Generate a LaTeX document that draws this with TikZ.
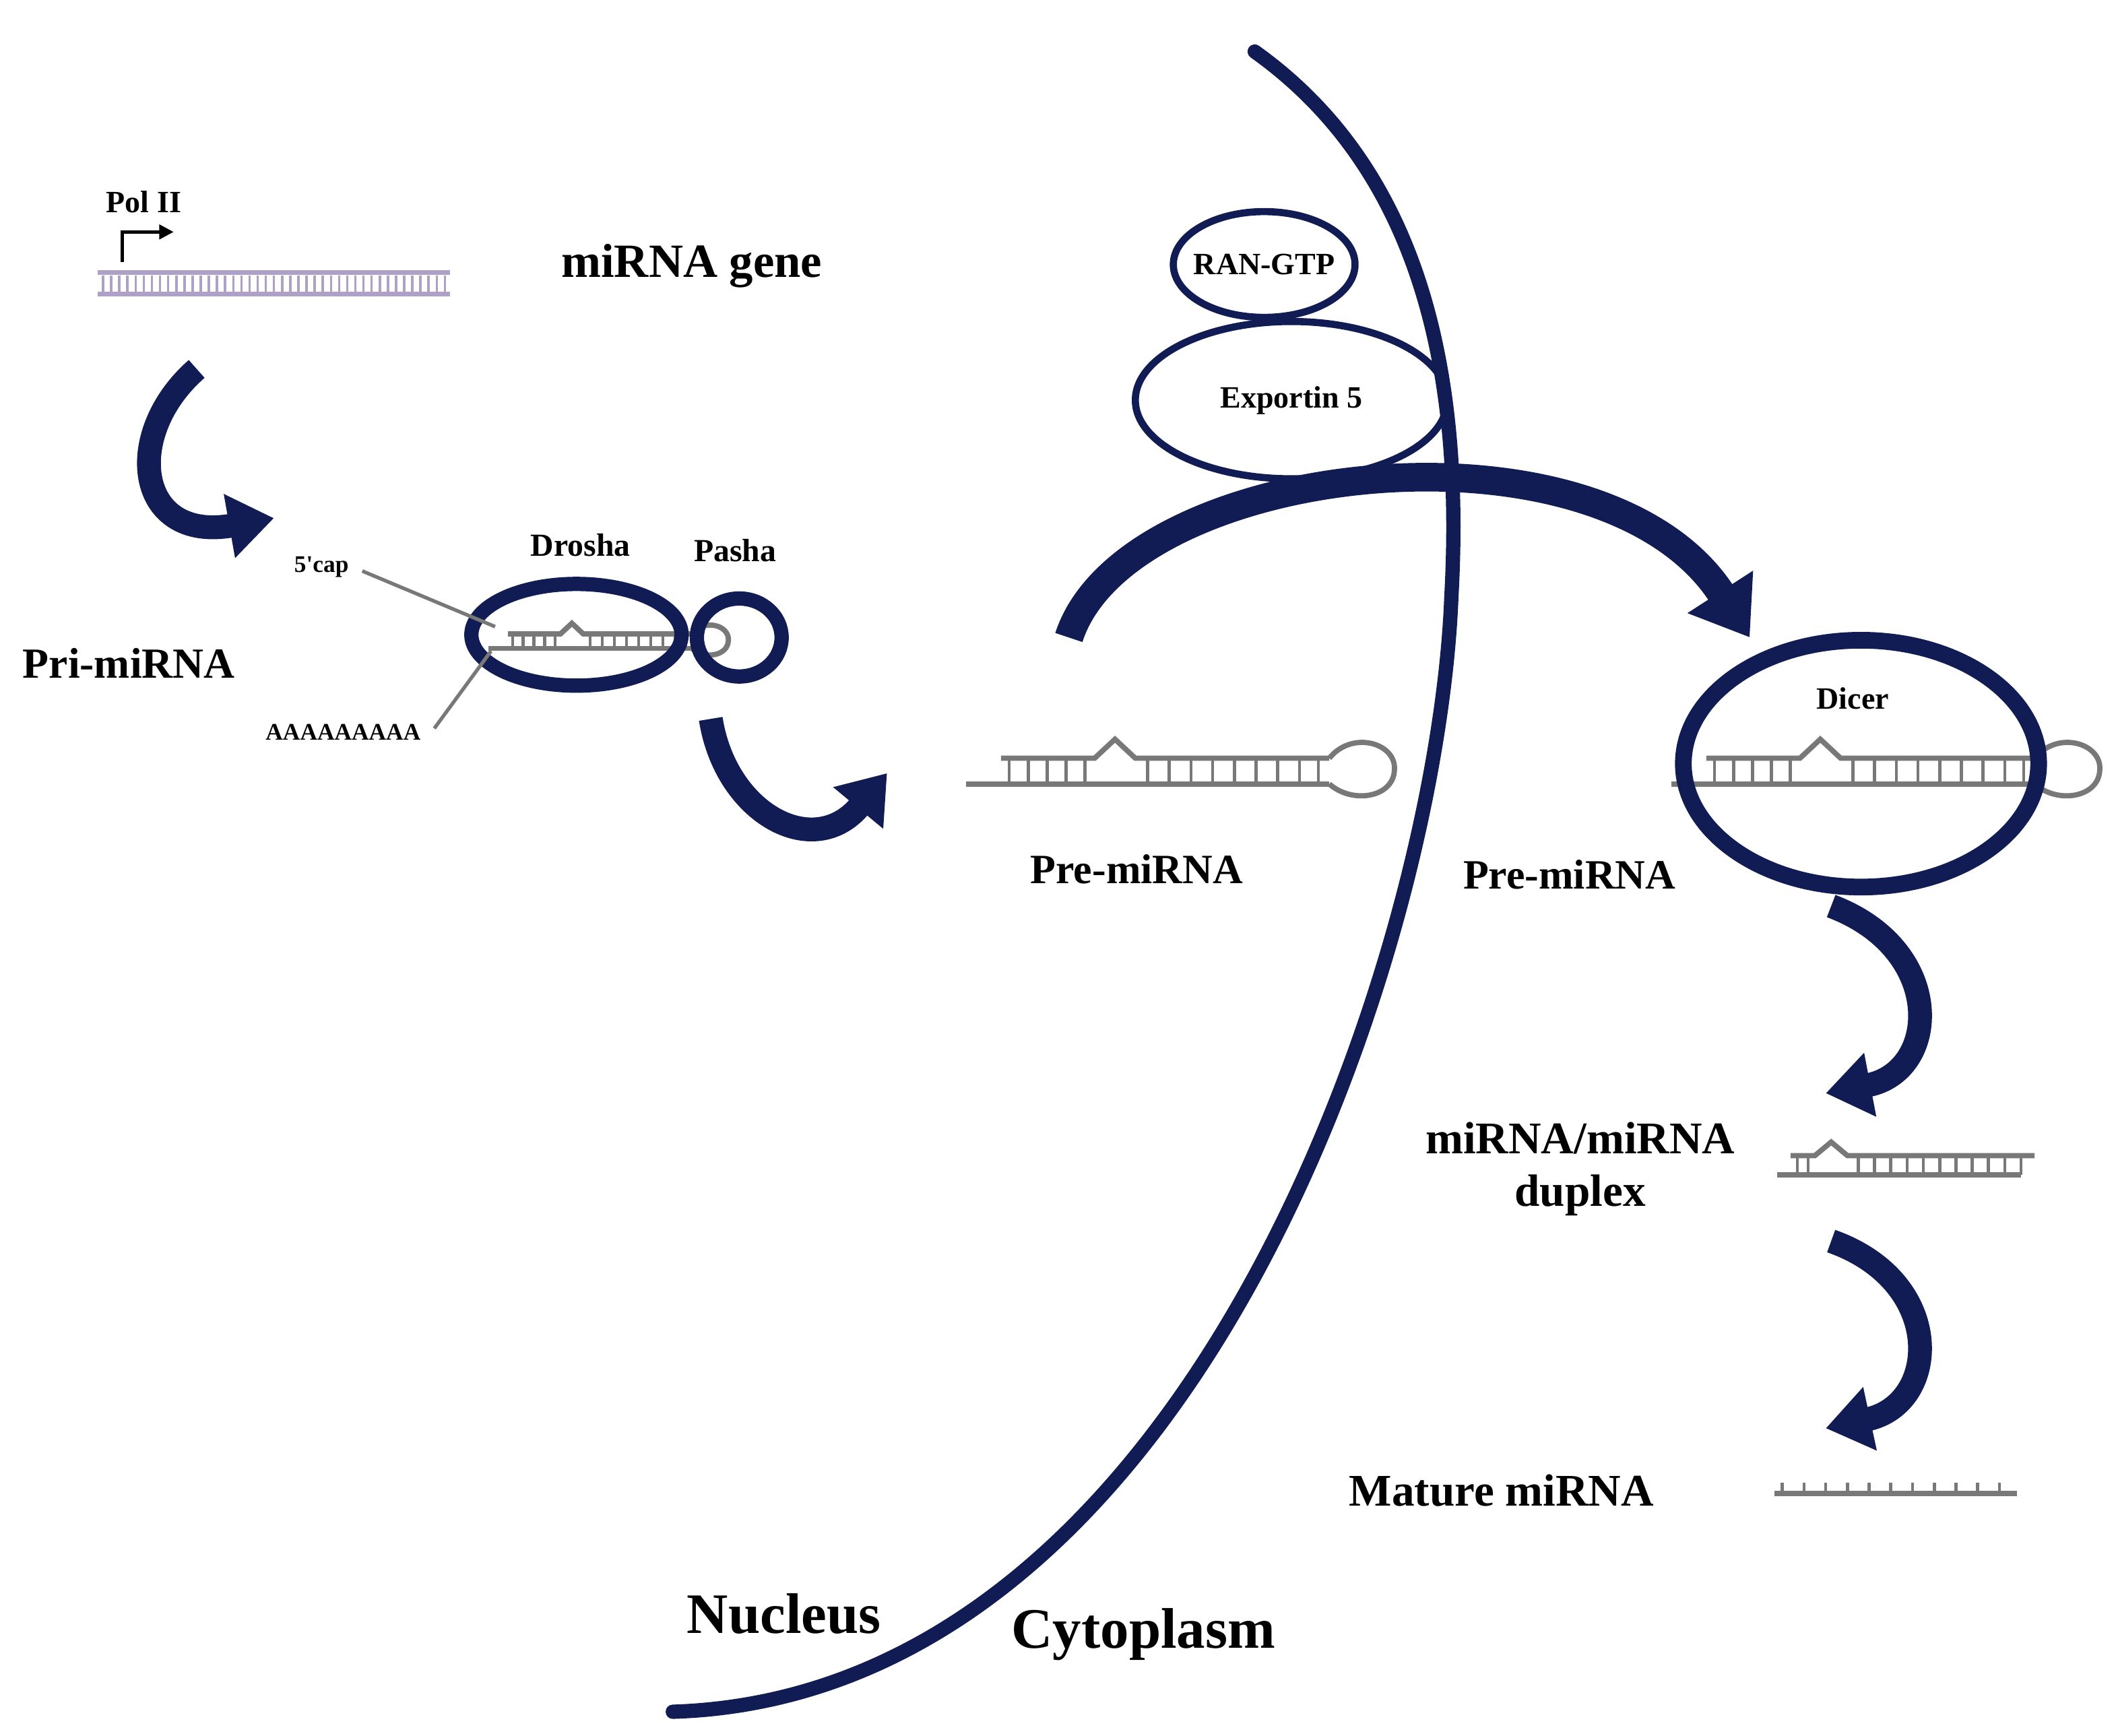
\documentclass[tikz,border=0pt]{standalone}
\usepackage{fontspec}
\setmainfont{Liberation Serif}
\usetikzlibrary{arrows.meta,shapes.geometric}
\definecolor{navy}{RGB}{18,28,84}
\definecolor{rnag}{RGB}{120,120,120}
\definecolor{dnap}{RGB}{175,160,200}
\tikzset{
  lbl/.style={font=\bfseries, inner sep=1pt},
  bend/.style={draw=navy, line width=#1, -{Triangle[width=2.6*#1,length=1.9*#1]}},
  rna/.style={draw=rnag, line width=2.2pt},
  rung/.style={draw=rnag, line width=1.3pt},
  pics/hairpin/.style={code={
    \draw[rna] (0,0) -- (268,0);
    \draw[rna] (26,-19) -- (95,-19) -- (110,-33) -- (125,-19) -- (268,-19);
    \draw[rna] (268,-19) .. controls (285,-40) and (318,-30) .. (316,-10) .. controls (315,10) and (285,15) .. (268,0);
    \foreach \x in {32,46,60,74,88} \draw[rung] (\x,-19) -- (\x,0);
    \foreach \x in {134,150,166,182,198,214,230,246,260} \draw[rung] (\x,-19) -- (\x,0);
  }}
}
\begin{document}
\begin{tikzpicture}[x=0.02cm,y=-0.02cm]
\useasboundingbox (0,0) rectangle (1560,1279.5);
% DNA
\draw[dnap, line width=2pt] (72,201) -- (332,201) (72,217) -- (332,217);
\foreach \x in {76,82,...,328} \draw[dnap, line width=1pt] (\x,203) -- (\x,215);
\coordinate (p0) at (90,193); \coordinate (p1) at (128,171);
\draw[line width=1.3pt, -{Triangle[width=6pt,length=6pt]}] (p0) |- (p1);
\node[lbl, font=\bfseries\fontsize{13}{15}\selectfont] (pol) at (106,149) {Pol II};
\node[lbl, font=\bfseries\fontsize{20}{22}\selectfont] (gene) at (510,196) {miRNA gene};
% arrow 1
\coordinate (a1s) at (145,272); \coordinate (a1e) at (202,382);
\draw[bend=10pt] (a1s) .. controls (90,320) and (100,400) .. (a1e);
\node[lbl, font=\bfseries\fontsize{18}{20}\selectfont] (pri) at (95,489) {Pri-miRNA};
% Pri hairpin
\pic[scale=0.56] at (360,478) {hairpin};
\node[draw=navy, line width=6pt, ellipse, minimum width=3.1cm, minimum height=1.5cm, inner sep=0] (drosha) at (425,468) {};
\node[draw=navy, line width=6pt, ellipse, minimum width=1.25cm, minimum height=1.15cm, inner sep=0] (pasha) at (545,470) {};
\node[lbl, font=\bfseries\fontsize{13.5}{15}\selectfont] (dl) at (428,402) {Drosha};
\node[lbl, font=\bfseries\fontsize{13.5}{15}\selectfont] (pl) at (542,406) {Pasha};
\node[lbl, font=\bfseries\fontsize{10}{12}\selectfont] (cap) at (237,418) {5\textquotesingle cap};
\node[lbl, font=\bfseries\fontsize{10}{12}\selectfont] (aaa) at (253,540) {AAAAAAAAA};
\coordinate (capend) at (365,462); \coordinate (aend) at (362,480);
\draw[rnag, line width=1.5pt] (cap.east) ++(8,3) -- (capend);
\draw[rnag, line width=1.5pt] (aaa.east) ++(8,-3) -- (aend);
% arrow 2
\coordinate (a2s) at (524,530); \coordinate (a2e) at (654,570);
\draw[bend=10pt] (a2s) .. controls (535,600) and (600,635) .. (a2e);
% pre-miRNA
\pic at (712,578) {hairpin};
\node[lbl, font=\bfseries\fontsize{17.5}{19}\selectfont] (pre1) at (838,641) {Pre-miRNA};
% exportin
\node[draw=navy, line width=3pt, ellipse, minimum width=2.68cm, minimum height=1.56cm, inner sep=0] (ran) at (932,195) {};
\node[lbl, font=\bfseries\fontsize{13}{15}\selectfont] at (ran) {RAN-GTP};
\node[draw=navy, line width=3pt, ellipse, minimum width=4.6cm, minimum height=2.32cm, inner sep=0] (exp) at (952,295) {};
\node[lbl, font=\bfseries\fontsize{13}{15}\selectfont] at (exp) {Exportin 5};
% membrane
\draw[navy, line width=6pt, line cap=round] (925,38) .. controls (1040,120) and (1080,260) .. (1070,440)
  .. controls (1060,700) and (880,1250) .. (496,1262);
% big arrow
\coordinate (a3s) at (788,470); \coordinate (a3e) at (1290,470);
\draw[bend=12pt] (a3s) .. controls (830,340) and (1180,300) .. (a3e);
\node[lbl, font=\bfseries\fontsize{17.5}{19}\selectfont] (pre2) at (1157,645) {Pre-miRNA};
% dicer
\pic at (1232,578) {hairpin};
\node[draw=navy, line width=7pt, ellipse, minimum width=5.24cm, minimum height=3.64cm, inner sep=0] (dicer) at (1372,563) {};
\node[lbl, font=\bfseries\fontsize{13}{15}\selectfont] (dl2) at (1366,515) {Dicer};
% arrow 4
\coordinate (a4s) at (1350,668); \coordinate (a4e) at (1346,806);
\draw[bend=10pt] (a4s) .. controls (1435,700) and (1430,790) .. (a4e);
\node[lbl, font=\bfseries\fontsize{19}{22}\selectfont, align=center] (dup) at (1165,862) {miRNA/miRNA\\duplex};
% duplex
\draw[rna] (1310,866) -- (1490,866);
\draw[rna] (1320,852) -- (1338,852) -- (1350,842) -- (1362,852) -- (1500,852);
\foreach \x in {1325,1333} \draw[rung] (\x,852) -- (\x,866);
\foreach \x in {1370,1382,...,1490} \draw[rung] (\x,852) -- (\x,866);
% arrow 5
\coordinate (a5s) at (1350,915); \coordinate (a5e) at (1346,1053);
\draw[bend=10pt] (a5s) .. controls (1435,945) and (1430,1035) .. (a5e);
\node[lbl, font=\bfseries\fontsize{19}{21}\selectfont] (mat) at (1107,1099) {Mature miRNA};
\draw[rna] (1308,1101) -- (1487,1101);
\foreach \x in {1314,1330,...,1484} \draw[rung] (\x,1101) -- (\x,1093);
\node[lbl, font=\bfseries\fontsize{24}{26}\selectfont] (nuc) at (578,1190) {Nucleus};
\node[lbl, font=\bfseries\fontsize{24}{26}\selectfont] (cyt) at (843,1205) {Cytoplasm};
\end{tikzpicture}
\end{document}
